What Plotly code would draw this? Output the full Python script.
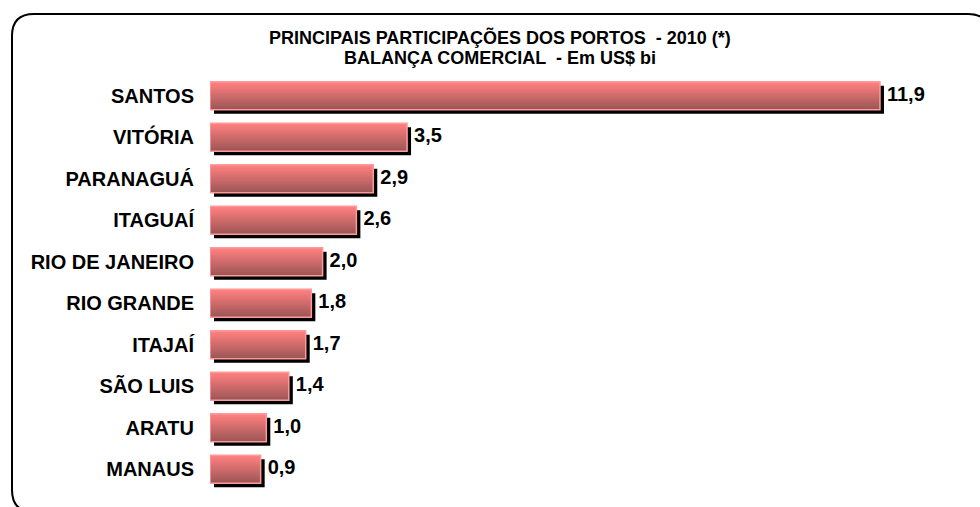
import plotly.graph_objects as go

ports = ["SANTOS", "VITÓRIA", "PARANAGUÁ", "ITAGUAÍ", "RIO DE JANEIRO",
         "RIO GRANDE", "ITAJAÍ", "SÃO LUIS", "ARATU", "MANAUS"]
values = [11.9, 3.5, 2.9, 2.6, 2.0, 1.8, 1.7, 1.4, 1.0, 0.9]
value_labels = ["11,9", "3,5", "2,9", "2,6", "2,0", "1,8", "1,7", "1,4", "1,0", "0,9"]
title_lines = ["PRINCIPAIS PARTICIPAÇÕES DOS PORTOS  - 2010 (*)",
               "BALANÇA COMERCIAL  - Em US$ bi"]

W, H = 980, 507
ML, MR, MT, MB = 210, 20, 75, 17
PW, PH = W - ML - MR, H - MT - MB
PX_PER_UNIT = 56.3
XMAX = PW / PX_PER_UNIT
CAT_PX = PH / len(ports)

FONT = "Liberation Sans, Arial, sans-serif"
BAR_W = 0.68
SHADOW_DX = 4 / PX_PER_UNIT
SHADOW_DY = 4 / CAT_PX
LABEL_GAP = 3 / PX_PER_UNIT

fig = go.Figure()

# shadow
fig.add_trace(go.Bar(
    y=ports, x=values, base=[SHADOW_DX] * len(values), orientation="h",
    width=BAR_W, offset=-BAR_W / 2 + SHADOW_DY,
    marker=dict(color="black", line=dict(width=0)), hoverinfo="skip", showlegend=False))

# gradient bands (each band runs from its top down to the bar bottom)
top = (255, 128, 128)
bot = (158, 86, 86)
N = 16
for k in range(N):
    t = k / (N - 1)
    c = tuple(round(top[i] + (bot[i] - top[i]) * t) for i in range(3))
    fig.add_trace(go.Bar(
        y=ports, x=values, orientation="h",
        width=BAR_W - k * BAR_W / N, offset=-BAR_W / 2 + k * BAR_W / N,
        marker=dict(color="rgb(%d,%d,%d)" % c, line=dict(width=0)),
        hoverinfo="skip", showlegend=False))

# outline
fig.add_trace(go.Bar(
    y=ports, x=values, orientation="h", width=BAR_W, offset=-BAR_W / 2,
    marker=dict(color="rgba(0,0,0,0)", line=dict(color="#ff9a9a", width=1.5)),
    showlegend=False))

# value labels
fig.add_trace(go.Scatter(
    y=ports, x=[v + SHADOW_DX + LABEL_GAP for v in values], mode="text", text=value_labels,
    textposition="middle right",
    textfont=dict(family=FONT, size=20, color="black", weight="bold"),
    hoverinfo="skip", showlegend=False))


def px2paper(px, py):
    return (px - ML) / PW, 1 - (py - MT) / PH


r = 22
L, T, R, B = 12, 14, 990, 512
path = "M {} {} ".format(*px2paper(L, T + r))
path += "Q {} {} {} {} ".format(*px2paper(L, T), *px2paper(L + r, T))
path += "L {} {} ".format(*px2paper(R - r, T))
path += "Q {} {} {} {} ".format(*px2paper(R, T), *px2paper(R, T + r))
path += "L {} {} ".format(*px2paper(R, B - r))
path += "Q {} {} {} {} ".format(*px2paper(R, B), *px2paper(R - r, B))
path += "L {} {} ".format(*px2paper(L + r, B))
path += "Q {} {} {} {} Z".format(*px2paper(L, B), *px2paper(L, B - r))

fig.add_shape(type="path", path=path, xref="paper", yref="paper",
              line=dict(color="black", width=2), layer="below")

for line, cy in zip(title_lines, [37, 58]):
    fig.add_annotation(
        text=line, xref="paper", yref="paper",
        x=px2paper(500, 0)[0], y=px2paper(0, cy)[1], xanchor="center", yanchor="middle",
        showarrow=False, align="center",
        font=dict(family=FONT, size=18, color="black", weight="bold"))

fig.update_layout(
    width=W, height=H, autosize=False,
    margin=dict(l=ML, r=MR, t=MT, b=MB),
    paper_bgcolor="white", plot_bgcolor="white",
    barmode="overlay", showlegend=False,
    xaxis=dict(range=[0, XMAX], visible=False, fixedrange=True),
    yaxis=dict(autorange="reversed", showgrid=False, zeroline=False, showline=False,
               ticks="", ticklabelstandoff=15, fixedrange=True,
               tickfont=dict(family=FONT, size=20, color="black", weight="bold")),
)

fig.write_html("out.html", post_script="document.body.style.margin='0px';",
               config={"displayModeBar": False})
